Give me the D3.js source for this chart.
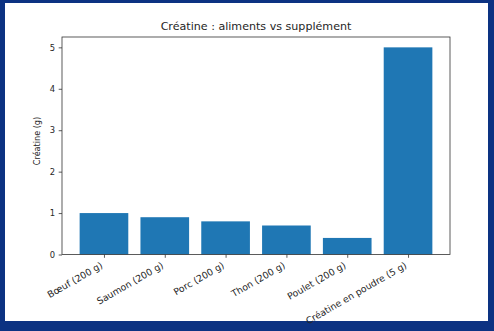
<!DOCTYPE html>
<html>
<head>
<meta charset="utf-8">
<script src="https://cdn.jsdelivr.net/npm/d3@7"></script>
<style>
  html, body { margin: 0; padding: 0; background: #0c3282; }
  svg { display: block; }
  text { font-family: "DejaVu Sans", sans-serif; fill: #262626; }
</style>
</head>
<body>
<svg id="chart" width="494" height="331"></svg>
<script>
const categories = ["Bœuf (200 g)", "Saumon (200 g)", "Porc (200 g)", "Thon (200 g)", "Poulet (200 g)", "Créatine en poudre (5 g)"];
const values = [1.0, 0.9, 0.8, 0.7, 0.4, 5.0];
const yTicks = [0, 1, 2, 3, 4, 5];
const title = "Créatine : aliments vs supplément";
const yLabel = "Créatine (g)";

const svg = d3.select("#chart");

// card background
svg.append("rect")
  .attr("x", 5).attr("y", 3).attr("width", 483).attr("height", 318)
  .attr("fill", "#ffffff");

const plot = { left: 62, right: 450, top: 37, bottom: 254.5 };
const xTickFont = 9.3;
const yTickFont = 8.4;

// index positions, matplotlib-style limits around 0.8-wide bars
const n = categories.length;
const x = d3.scaleLinear()
  .domain([-0.4 - 0.05 * (n - 1 + 0.8), n - 1 + 0.4 + 0.05 * (n - 1 + 0.8)])
  .range([plot.left, plot.right]);
const y = d3.scaleLinear()
  .domain([0, d3.max(values) * 1.05])
  .range([plot.bottom, plot.top]);

// bars
svg.append("g").selectAll("rect")
  .data(values)
  .join("rect")
  .attr("x", (d, i) => x(i - 0.4))
  .attr("width", (d, i) => x(i + 0.4) - x(i - 0.4))
  .attr("y", d => y(d))
  .attr("height", d => y(0) - y(d))
  .attr("fill", "#1f77b4");

// frame
svg.append("rect")
  .attr("x", plot.left).attr("y", plot.top)
  .attr("width", plot.right - plot.left).attr("height", plot.bottom - plot.top)
  .attr("fill", "none").attr("stroke", "#333").attr("stroke-width", 0.8);

// y axis
const yAxis = d3.axisLeft(y).tickValues(yTicks).tickFormat(d3.format("d")).tickSize(3.3).tickPadding(3.6);
const gy = svg.append("g").attr("transform", `translate(${plot.left},0)`).call(yAxis);
gy.select(".domain").remove();
gy.selectAll("line").attr("stroke", "#333").attr("stroke-width", 0.8);
gy.selectAll("text").attr("font-size", yTickFont).style("fill", "#262626");

// x axis, labels rotated 30° and right-aligned under each tick
const xAxis = d3.axisBottom(x).tickValues(d3.range(n)).tickFormat(i => categories[i]).tickSize(3.3).tickPadding(3.3);
const gx = svg.append("g").attr("transform", `translate(0,${plot.bottom})`).call(xAxis);
gx.select(".domain").remove();
gx.selectAll("line").attr("stroke", "#333").attr("stroke-width", 0.8);
gx.selectAll("text")
  .attr("font-size", xTickFont)
  .style("fill", "#262626")
  .attr("text-anchor", "end")
  .attr("y", 0).attr("dy", 0)
  .attr("transform", "translate(-1.1,12.8) rotate(-30)");

// title
svg.append("text")
  .attr("x", (plot.left + plot.right) / 2).attr("y", 30)
  .attr("text-anchor", "middle").attr("font-size", 11.1)
  .text(title);

// y label
svg.append("text")
  .attr("transform", "translate(40,141) rotate(-90)")
  .attr("text-anchor", "middle").attr("font-size", 8.1)
  .text(yLabel);
</script>
</body>
</html>
